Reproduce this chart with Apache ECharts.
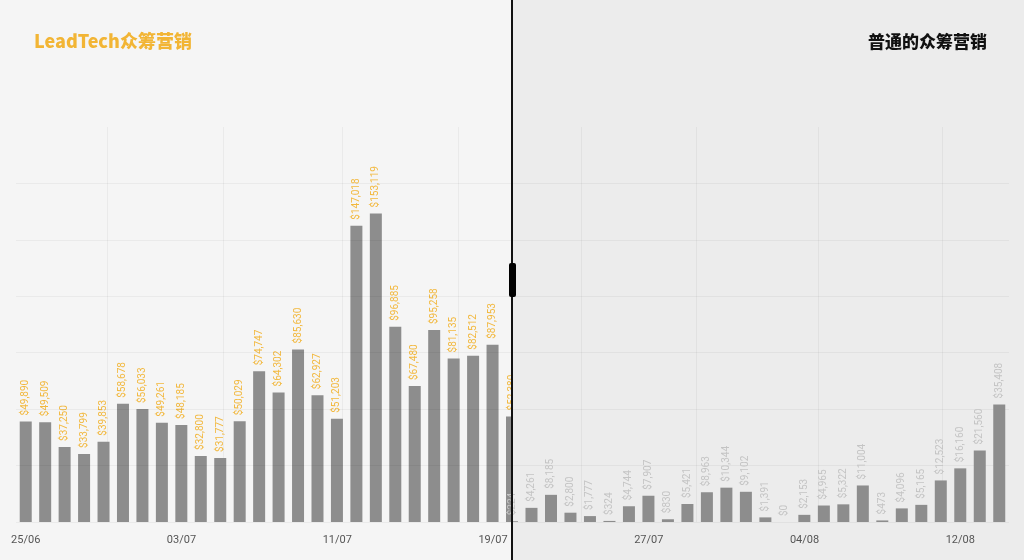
<!DOCTYPE html>
<html>
<head>
<meta charset="utf-8">
<script src="https://cdn.jsdelivr.net/npm/echarts@6/dist/echarts.min.js"></script>
<style>
html,body{margin:0;padding:0;background:#f5f5f5;}
#chart{width:1024px;height:560px;}
</style>
</head>
<body>
<div id="chart"></div>
<script>
// Category labels (one per day)
const dates = [
  '25/06','26/06','27/06','28/06','29/06','30/06','01/07','02/07','03/07','04/07',
  '05/07','06/07','07/07','08/07','09/07','10/07','11/07','12/07','13/07','14/07',
  '15/07','16/07','17/07','18/07','19/07','20/07','21/07','22/07','23/07','24/07',
  '25/07','26/07','27/07','28/07','29/07','30/07','31/07','01/08','02/08','03/08',
  '04/08','05/08','06/08','07/08','08/08','09/08','10/08','11/08','12/08','13/08','14/08'
];

// LeadTech crowdfunding (days 25/06 .. 20/07)
const leadTechValues = [
  49890, 49509, 37250, 33799, 39853, 58678, 56033, 49261, 48185, 32800,
  31777, 50029, 74747, 64302, 85630, 62927, 51203, 147018, 153119, 96885,
  67480, 95258, 81135, 82512, 87953, 52380
];

// Ordinary crowdfunding (days 20/07 .. 14/08)
const ordinaryValues = [
  224, 4261, 8185, 2800, 1777, 324, 4744, 7907, 830, 5421,
  8963, 10344, 9102, 1391, 0, 2153, 4965, 5322, 11004, 473,
  4096, 5165, 12523, 16160, 21560, 35408
];

const leadTechStart = 0;   // index of first LeadTech day
const ordinaryStart = 25;  // index of first ordinary day

// vertical reference lines (in day-index units)
const vLinesLeft = [4.17, 10.14, 16.27, 22.25];
const vLinesRight = [28.53, 34.45, 40.73, 47.07];

const fmt = v => '$' + Number(v).toLocaleString('en-US');

const chart = echarts.init(document.getElementById('chart'));
const gridTop = 127, gridBottom = 38;
const vLineStyle = {color: 'rgba(0,0,0,0.045)', width: 1, type: 'solid'};

chart.setOption({
  backgroundColor: '#f5f5f5',
  animation: false,
  title: [
    {text: 'LeadTech众筹营销', left: 34, top: 32, padding: 0,
     textStyle: {color: '#f2b535', fontSize: 18, fontWeight: 900, fontFamily: 'Noto Sans CJK SC'}},
    {text: '普通的众筹营销', right: 37, top: 33, padding: 0,
     textStyle: {color: '#111', fontSize: 17, fontWeight: 900, fontFamily: 'Noto Sans CJK SC'}}
  ],
  graphic: [
    // right half panel: drawn above the LeadTech bars, below the ordinary bars
    {type: 'rect', left: 512, top: 0, z: 3, silent: true,
     shape: {width: 512, height: 560}, style: {fill: '#ececec'}},
    {type: 'rect', left: 511, top: 0, z: 100, silent: true,
     shape: {width: 2, height: 560}, style: {fill: '#111'}},
    {type: 'rect', left: 509, top: 263, z: 101, silent: true,
     shape: {width: 7, height: 34, r: 2}, style: {fill: '#000'}}
  ],
  grid: [
    {left: 16, right: 15, top: gridTop, bottom: gridBottom},
    {left: 16, width: 496, top: gridTop, bottom: gridBottom},
    {left: 512, right: 15, top: gridTop, bottom: gridBottom}
  ],
  xAxis: [
    {type: 'category', gridIndex: 0, data: dates, boundaryGap: true, z: 6,
     axisLine: {show: false}, axisTick: {show: false},
     axisLabel: {interval: 7, color: '#555', fontSize: 11, margin: 13, fontFamily: 'Roboto'},
     splitLine: {show: false}},
    {type: 'value', gridIndex: 1, min: -0.5, max: 25, show: false},
    {type: 'value', gridIndex: 2, min: 25, max: 50.5, show: false}
  ],
  yAxis: [
    {type: 'value', gridIndex: 0, min: 0, max: 196000, interval: 28000, z: 4,
     axisLabel: {show: false}, axisLine: {show: false}, axisTick: {show: false},
     splitLine: {show: true, showMaxLine: false, lineStyle: {color: 'rgba(0,0,0,0.045)', width: 1}}},
    {type: 'value', gridIndex: 1, min: 0, max: 196000, show: false, splitLine: {show: false}},
    {type: 'value', gridIndex: 2, min: 0, max: 119000, show: false, splitLine: {show: false}}
  ],
  series: [
    {
      type: 'bar', xAxisIndex: 1, yAxisIndex: 1, barWidth: 12, z: 2,
      data: leadTechValues.map((v, i) => [leadTechStart + i, v]),
      itemStyle: {color: '#8d8d8d'},
      label: {show: true, position: 'top', rotate: 90, align: 'left', verticalAlign: 'middle',
              distance: 6, color: '#f2b83e', fontSize: 10, fontFamily: 'Roboto',
              formatter: p => fmt(p.value[1])},
      markLine: {silent: true, symbol: 'none', z: 1, label: {show: false},
                 lineStyle: vLineStyle, data: vLinesLeft.map(x => ({xAxis: x}))}
    },
    {
      type: 'bar', xAxisIndex: 2, yAxisIndex: 2, barWidth: 12, z: 6,
      data: ordinaryValues.map((v, i) => [ordinaryStart + i, v]),
      itemStyle: {color: '#8d8d8d'},
      label: {show: true, position: 'top', rotate: 90, align: 'left', verticalAlign: 'middle',
              distance: 6, color: '#c4c4c4', fontSize: 10, fontFamily: 'Roboto',
              formatter: p => fmt(p.value[1])},
      markLine: {silent: true, symbol: 'none', z: 5, label: {show: false},
                 lineStyle: vLineStyle, data: vLinesRight.map(x => ({xAxis: x}))}
    }
  ]
});
</script>
</body>
</html>
